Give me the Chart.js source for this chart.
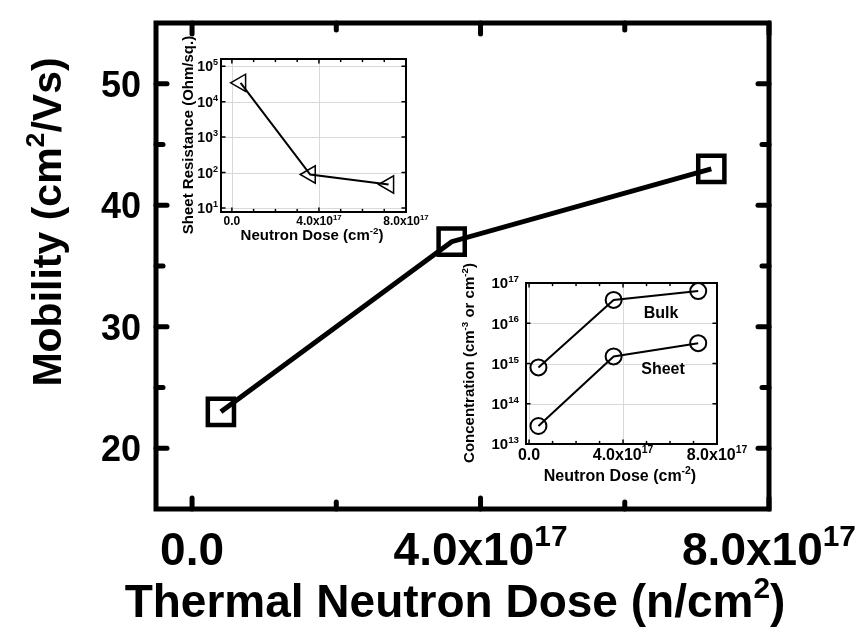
<!DOCTYPE html>
<html>
<head>
<meta charset="utf-8">
<script src="https://cdn.jsdelivr.net/npm/chart.js@4"></script>
<style>
  body { margin: 0; background: #fff; }
  #wrap { position: relative; width: 861px; height: 633px; }
  #wrap canvas { position: absolute; }
</style>
</head>
<body>
<div id="wrap">
  <canvas id="main" width="861" height="633" style="left:0;top:0"></canvas>
  <canvas id="insetRes" width="280" height="225" style="left:150px;top:30px"></canvas>
  <canvas id="insetConc" width="300" height="265" style="left:450px;top:260px"></canvas>
</div>
<script>
// neutron dose for the three samples (n/cm2)
var dose = [0.4e17, 3.6e17, 7.2e17];
var mobility = [23, 37, 43];
var sheetResistance = [3.4e4, 88, 46];
var bulkConc = [8e14, 3.8e16, 6.3e16];
var sheetConc = [2.8e13, 1.5e15, 3.2e15];

var doseTicks = [0, 4e17, 8e17];
var doseMinor = [2e17, 6e17];
var doseTickLabels = [['0.0'], ['4.0x10', '17'], ['8.0x10', '17']];
var mobilityTicks = [20, 30, 40, 50];
var mobilityMinor = [25, 35, 45];
var resExponents = [1, 2, 3, 4, 5];
var concExponents = [13, 14, 15, 16, 17];

var FONT = '"Liberation Sans", Arial, sans-serif';

function points(xs, ys) {
  return xs.map(function(x, i) { return { x: x, y: ys[i] }; });
}

// text with superscript pieces: parts = [[text, isSup], ...]
function richWidth(ctx, parts, size) {
  var w = 0;
  parts.forEach(function(p) {
    ctx.font = 'bold ' + (p[1] ? size * 0.65 : size) + 'px ' + FONT;
    w += ctx.measureText(p[0]).width;
  });
  return w;
}

function drawRich(ctx, parts, x, y, size, align) {
  var w = richWidth(ctx, parts, size);
  var cx = align === 'center' ? x - w / 2 : (align === 'right' ? x - w : x);
  ctx.textAlign = 'left';
  ctx.textBaseline = 'alphabetic';
  parts.forEach(function(p) {
    var s = p[1] ? size * 0.65 : size;
    ctx.font = 'bold ' + s + 'px ' + FONT;
    ctx.fillText(p[0], cx, p[1] ? y - size * 0.42 : y);
    cx += ctx.measureText(p[0]).width;
  });
}

function drawRotated(ctx, parts, x, y, size) {
  ctx.save();
  ctx.translate(x, y);
  ctx.rotate(-Math.PI / 2);
  drawRich(ctx, parts, 0, 0, size, 'center');
  ctx.restore();
}

function toParts(label) {
  return label.length > 1 ? [[label[0], false], [label[1], true]] : [[label[0], false]];
}

// frame, inward ticks and labels, drawn from the chart's own scales
function framePlugin(cfg) {
  return {
    id: 'frame',
    beforeDatasetsDraw: function(chart) {
      if (!cfg.grid) return;
      var ctx = chart.ctx, a = chart.chartArea, sx = chart.scales.x, sy = chart.scales.y;
      ctx.save();
      ctx.strokeStyle = '#d9d9d9';
      ctx.lineWidth = 1;
      cfg.xTicks.forEach(function(v) {
        var px = Math.round(sx.getPixelForValue(v)) + 0.5;
        ctx.beginPath(); ctx.moveTo(px, a.top); ctx.lineTo(px, a.bottom); ctx.stroke();
      });
      cfg.yTicks.forEach(function(v) {
        var py = Math.round(sy.getPixelForValue(v)) + 0.5;
        ctx.beginPath(); ctx.moveTo(a.left, py); ctx.lineTo(a.right, py); ctx.stroke();
      });
      ctx.restore();
    },
    afterDatasetsDraw: function(chart) {
      var ctx = chart.ctx, a = chart.chartArea, sx = chart.scales.x, sy = chart.scales.y;
      ctx.save();
      ctx.strokeStyle = '#000';
      ctx.fillStyle = '#000';
      ctx.lineCap = 'round';
      ctx.lineWidth = cfg.tickWidth;
      function tickX(v, len) {
        var px = sx.getPixelForValue(v);
        ctx.beginPath(); ctx.moveTo(px, a.bottom); ctx.lineTo(px, a.bottom - len); ctx.stroke();
        ctx.beginPath(); ctx.moveTo(px, a.top); ctx.lineTo(px, a.top + len); ctx.stroke();
      }
      function tickY(v, len) {
        var py = sy.getPixelForValue(v);
        ctx.beginPath(); ctx.moveTo(a.left, py); ctx.lineTo(a.left + len, py); ctx.stroke();
        ctx.beginPath(); ctx.moveTo(a.right, py); ctx.lineTo(a.right - len, py); ctx.stroke();
      }
      cfg.xTicks.forEach(function(v) { tickX(v, cfg.majorLen); });
      cfg.xMinor.forEach(function(v) { tickX(v, cfg.minorLen); });
      cfg.yTicks.forEach(function(v) { tickY(v, cfg.majorLen); });
      cfg.yMinor.forEach(function(v) { tickY(v, cfg.minorLen); });

      ctx.lineCap = 'square';
      ctx.lineWidth = cfg.frameWidth;
      ctx.strokeRect(a.left, a.top, a.right - a.left, a.bottom - a.top);

      cfg.xTicks.forEach(function(v, i) {
        drawRich(ctx, cfg.xLabels[i], sx.getPixelForValue(v), a.bottom + cfg.xLabelGap, cfg.xLabelSize, 'center');
      });
      cfg.yTicks.forEach(function(v, i) {
        drawRich(ctx, cfg.yLabels[i], a.left - cfg.yLabelGap, sy.getPixelForValue(v) + cfg.yLabelSize * 0.36, cfg.yLabelSize, 'right');
      });
      drawRich(ctx, cfg.xTitle, cfg.xTitlePos[0], cfg.xTitlePos[1], cfg.xTitleSize, 'center');
      drawRotated(ctx, cfg.yTitle, cfg.yTitlePos[0], cfg.yTitlePos[1], cfg.yTitleSize);
      (cfg.notes || []).forEach(function(n) {
        drawRich(ctx, [[n[0], false]], n[1], n[2], n[3], 'center');
      });
      ctx.restore();
    }
  };
}

function baseOptions(pad, xMin, xMax, yType, yMin, yMax) {
  return {
    responsive: false,
    animation: false,
    layout: { padding: pad },
    plugins: { legend: { display: false }, tooltip: { enabled: false } },
    scales: {
      x: { type: 'linear', min: xMin, max: xMax, display: false },
      y: { type: yType, min: yMin, max: yMax, display: false }
    }
  };
}

// main plot: mobility vs dose
new Chart(document.getElementById('main'), {
  type: 'line',
  data: {
    datasets: [{
      data: points(dose, mobility),
      borderColor: '#000',
      borderWidth: 5,
      pointStyle: 'rect',
      pointRadius: 18.5,
      pointBorderWidth: 4.5,
      pointBorderColor: '#000',
      pointBackgroundColor: 'rgba(0,0,0,0)',
      clip: false
    }]
  },
  options: baseOptions({ left: 156, right: 92, top: 10, bottom: 124 }, -0.5e17, 8e17, 'linear', 15, 55),
  plugins: [framePlugin({
    grid: false,
    xTicks: doseTicks, xMinor: doseMinor,
    yTicks: mobilityTicks, yMinor: mobilityMinor,
    majorLen: 11, minorLen: 7, tickWidth: 5, frameWidth: 5,
    xLabels: doseTickLabels.map(toParts), xLabelGap: 56, xLabelSize: 46,
    yLabels: mobilityTicks.map(function(v) { return [[String(v), false]]; }), yLabelGap: 15, yLabelSize: 36,
    xTitle: [['Thermal Neutron Dose (n/cm', false], ['2', true], [')', false]],
    xTitlePos: [455, 617], xTitleSize: 46,
    yTitle: [['Mobility (cm', false], ['2', true], ['/Vs)', false]],
    yTitlePos: [61, 222], yTitleSize: 41
  })]
});

// inset: sheet resistance
new Chart(document.getElementById('insetRes'), {
  type: 'line',
  data: {
    datasets: [{
      data: points(dose, sheetResistance),
      borderColor: '#000',
      borderWidth: 2,
      pointStyle: 'triangle',
      rotation: -90,
      pointRadius: 10,
      pointBorderWidth: 1.5,
      pointBorderColor: '#000',
      pointBackgroundColor: 'rgba(0,0,0,0)',
      clip: false
    }]
  },
  options: baseOptions({ left: 71, right: 24, top: 29, bottom: 43 }, -0.5e17, 8e17, 'logarithmic', 7.7, 1.6e5),
  plugins: [framePlugin({
    grid: true,
    xTicks: doseTicks, xMinor: [1e17, 2e17, 3e17, 5e17, 6e17, 7e17],
    yTicks: resExponents.map(function(e) { return Math.pow(10, e); }), yMinor: [],
    majorLen: 4, minorLen: 2.5, tickWidth: 1.5, frameWidth: 2,
    xLabels: doseTickLabels.map(toParts), xLabelGap: 13, xLabelSize: 12,
    yLabels: resExponents.map(function(e) { return [['10', false], [String(e), true]]; }), yLabelGap: 3, yLabelSize: 14,
    xTitle: [['Neutron Dose (cm', false], ['-2', true], [')', false]],
    xTitlePos: [162, 210], xTitleSize: 15,
    yTitle: [['Sheet Resistance (Ohm/sq.)', false]],
    yTitlePos: [43, 105], yTitleSize: 15
  })]
});

// inset: bulk and sheet carrier concentration
new Chart(document.getElementById('insetConc'), {
  type: 'line',
  data: {
    datasets: [bulkConc, sheetConc].map(function(vals) {
      return {
        data: points(dose, vals),
        borderColor: '#000',
        borderWidth: 2,
        pointStyle: 'circle',
        pointRadius: 8,
        pointBorderWidth: 2,
        pointBorderColor: '#000',
        pointBackgroundColor: 'rgba(0,0,0,0)',
        clip: false
      };
    })
  },
  options: baseOptions({ left: 76, right: 33, top: 23, bottom: 81 }, -0.13e17, 8e17, 'logarithmic', 1e13, 1e17),
  plugins: [framePlugin({
    grid: true,
    xTicks: doseTicks, xMinor: [1e17, 2e17, 3e17, 5e17, 6e17, 7e17],
    yTicks: concExponents.map(function(e) { return Math.pow(10, e); }), yMinor: [],
    majorLen: 4, minorLen: 2.5, tickWidth: 1.5, frameWidth: 2,
    xLabels: doseTickLabels.map(toParts), xLabelGap: 16, xLabelSize: 16,
    yLabels: concExponents.map(function(e) { return [['10', false], [String(e), true]]; }), yLabelGap: 7, yLabelSize: 15,
    xTitle: [['Neutron Dose (cm', false], ['-2', true], [')', false]],
    xTitlePos: [170, 221], xTitleSize: 16,
    yTitle: [['Concentration (cm', false], ['-3', true], [' or cm', false], ['-2', true], [')', false]],
    yTitlePos: [24, 103], yTitleSize: 15,
    notes: [['Bulk', 211, 58, 16], ['Sheet', 213, 114, 16]]
  })]
});
</script>
</body>
</html>
